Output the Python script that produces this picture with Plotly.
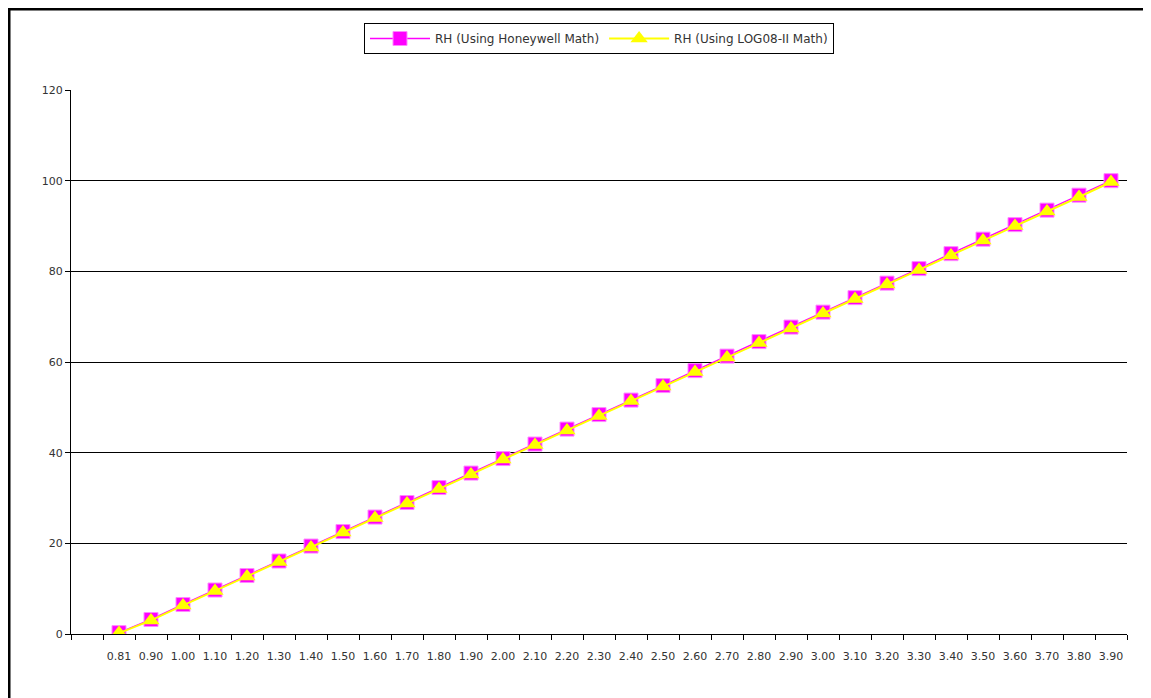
import plotly.graph_objects as go

categories = ["0.81", "0.90", "1.00", "1.10", "1.20", "1.30", "1.40", "1.50", "1.60", "1.70",
              "1.80", "1.90", "2.00", "2.10", "2.20", "2.30", "2.40", "2.50", "2.60", "2.70",
              "2.80", "2.90", "3.00", "3.10", "3.20", "3.30", "3.40", "3.50", "3.60", "3.70",
              "3.80", "3.90"]

rh_honeywell = [0.3, 3.2, 6.5, 9.7, 12.9, 16.1, 19.4, 22.6, 25.8, 29.0,
                32.3, 35.5, 38.7, 41.9, 45.2, 48.4, 51.6, 54.8, 58.1, 61.3,
                64.5, 67.7, 71.0, 74.2, 77.4, 80.6, 83.9, 87.1, 90.3, 93.5,
                96.8, 100.0]

rh_log08 = [0.2, 3.0, 6.3, 9.5, 12.7, 15.9, 19.1, 22.4, 25.6, 28.8,
            32.0, 35.2, 38.5, 41.7, 44.9, 48.1, 51.4, 54.6, 57.8, 61.0,
            64.2, 67.4, 70.7, 73.9, 77.1, 80.3, 83.5, 86.8, 90.0, 93.2,
            96.4, 99.7]

y_ticks = [0, 20, 40, 60, 80, 100, 120]

cat_array = [" "] + categories

fig = go.Figure()
fig.add_trace(go.Scatter(
    x=categories, y=rh_honeywell, mode="lines+markers",
    name="RH (Using Honeywell Math)",
    line=dict(color="#FF00FF", width=1.5),
    marker=dict(symbol="square", size=14, color="#FF00FF",
                line=dict(color="#FF88FF", width=1)),
))
fig.add_trace(go.Scatter(
    x=categories, y=rh_log08, mode="lines+markers",
    name="RH (Using LOG08-II Math)",
    line=dict(color="#FFFF00", width=2),
    marker=dict(symbol="triangle-up", size=15, color="#FFFF00",
                line=dict(color="#FFFF00", width=0)),
))

# page has an 8px body margin, so figure coords = page coords - 8
L, R, T, B = 63, 24, 82, 64
W, H = 1143, 690
pw, ph = W - L - R, H - T - B

def px_to_paper_x(px):
    return (px - L) / pw

def px_to_paper_y(py):
    return (H - B - py) / ph

# outer chart border (top and left edges visible in the reference)
fig.add_shape(type="line", xref="paper", yref="paper",
              x0=px_to_paper_x(0), x1=px_to_paper_x(W),
              y0=px_to_paper_y(1), y1=px_to_paper_y(1),
              line=dict(color="black", width=3), layer="below")
fig.add_shape(type="line", xref="paper", yref="paper",
              x0=px_to_paper_x(1), x1=px_to_paper_x(1),
              y0=px_to_paper_y(0), y1=px_to_paper_y(H),
              line=dict(color="black", width=3), layer="below")

fig.update_layout(
    width=W, height=H,
    margin=dict(l=L, r=R, t=T, b=B),
    paper_bgcolor="white", plot_bgcolor="white",
    font=dict(family="DejaVu Sans", size=11, color="#333333"),
    showlegend=True,
    legend=dict(orientation="h", x=0.5, xanchor="center",
                y=px_to_paper_y(15), yanchor="top",
                bordercolor="black", borderwidth=1, bgcolor="white",
                font=dict(size=12, color="#333333"),
                itemwidth=60, tracegroupgap=20),
    xaxis=dict(type="category", categoryorder="array", categoryarray=cat_array,
               range=[-0.5, len(cat_array) - 0.5],
               tickson="boundaries", ticks="outside", ticklen=5, tickcolor="black",
               tickangle=0, ticklabelstandoff=12,
               showline=True, linecolor="black", linewidth=1,
               showgrid=False, zeroline=False,
               tickfont=dict(size=11, color="#333333")),
    yaxis=dict(range=[0, 120], tickvals=y_ticks, ticks="outside", ticklen=5,
               tickcolor="black", showline=True, linecolor="black", linewidth=1,
               showgrid=True, gridcolor="black", gridwidth=1, zeroline=False,
               tickfont=dict(size=11, color="#333333")),
)

fig.write_html("out.html")
